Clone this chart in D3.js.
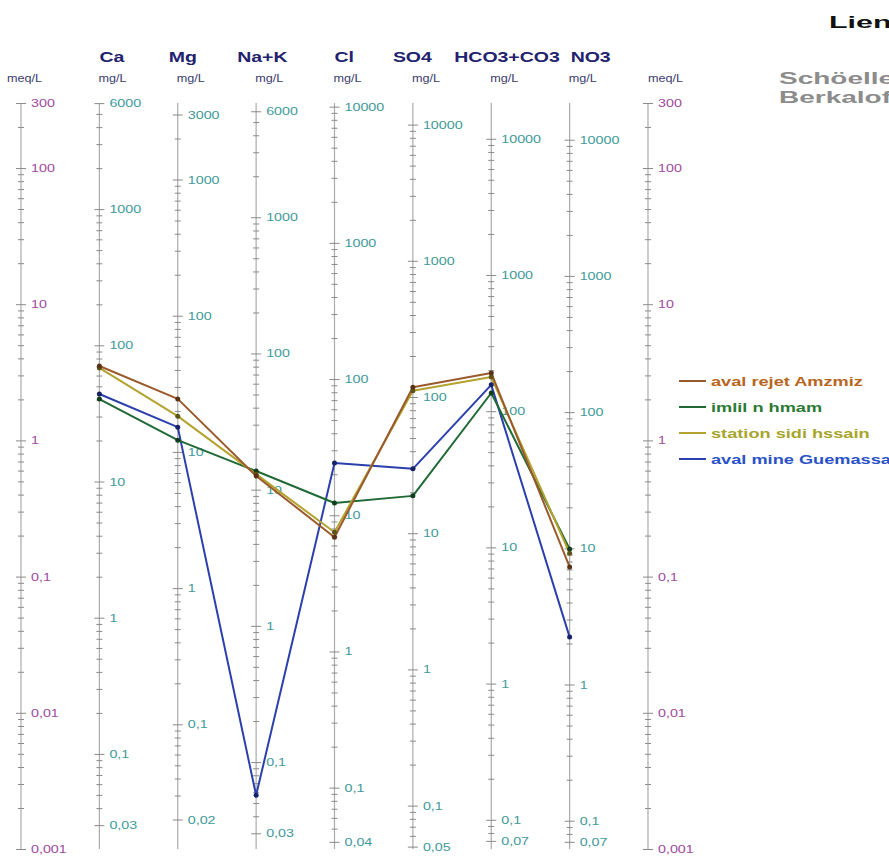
<!DOCTYPE html>
<html>
<head>
<meta charset="utf-8">
<script src="https://cdn.jsdelivr.net/npm/d3@7"></script>
<style>
  html, body { margin: 0; padding: 0; background: #ffffff; }
  svg { display: block; font-family: "Liberation Sans", Arial, sans-serif; }
</style>
</head>
<body>
<svg id="chart" width="889" height="857"></svg>
<script>
// ---------------- DATA ----------------
const ions = ["Ca", "Mg", "Na+K", "Cl", "SO4", "HCO3+CO3", "NO3"];
const ionLabels = ["Ca", "Mg", "Na+K", "Cl", "SO4", "HCO3+CO3", "NO3"];
const eqWeights = [20.04, 12.15, 23.0, 35.45, 48.03, 61.02, 62.0];   // mg per meq
const meqDomain = [300, 0.001];
const meqTickLabels = [300, 100, 10, 1, 0.1, 0.01, 0.001];
const mgTickLabels = [
  [6000, 1000, 100, 10, 1, 0.1, 0.03],
  [3000, 1000, 100, 10, 1, 0.1, 0.02],
  [6000, 1000, 100, 10, 1, 0.1, 0.03],
  [10000, 1000, 100, 10, 1, 0.1, 0.04],
  [10000, 1000, 100, 10, 1, 0.1, 0.05],
  [10000, 1000, 100, 10, 1, 0.1, 0.07],
  [10000, 1000, 100, 10, 1, 0.1, 0.07]
];
const seriesNames = ["aval rejet Amzmiz", "imlil n hmam", "station sidi hssain", "aval mine Guemassa"];
// concentrations in mg/L, in the order of `ions`
const amzmiz   = [70.5, 24.5, 12.6, 6.9, 118, 191, 7.3];
const imlil    = [40.3, 12.2, 13.7, 12.3, 18.8, 136, 9.9];
const sidi     = [68.2, 18.3, 13.0, 7.5, 111, 178, 9.2];
const guemassa = [43.9, 15.2, 0.057, 24.2, 29.7, 156, 2.23];
const seriesValues = [amzmiz, imlil, sidi, guemassa];

// ---------------- STYLE / LAYOUT ----------------
const lineColors = ["#9a5a2c", "#1f6a35", "#b3a22e", "#2b40ad"];
const dotColors  = ["#5a3316", "#113d1e", "#5d5416", "#162266"];
const legendText = ["#b8651e", "#2c7a34", "#a7a52c", "#2a52c6"];
const headerDx = [0, -9, -19, 0, -20, -37, 1];

const svg = d3.select("#chart");
const y = d3.scaleLog().domain(meqDomain).range([103, 849]);
const xKeys = ["meqL"].concat(ions, ["meqR"]);
const x = d3.scalePoint().domain(xKeys).range([21, 648]);

const fmt = v => String(+v.toPrecision(6)).replace(".", ",");

// horizontally stretched text helper (reference text is wide)
function wideText(parent, px, py, str, size, sx, attrs) {
  const t = parent.append("text")
    .attr("transform", `translate(${px},${py}) scale(${sx},1)`)
    .attr("font-size", size)
    .text(str);
  Object.entries(attrs || {}).forEach(([k, v]) => t.attr(k, v));
  return t;
}

function tickList(lo, hi) {
  const out = [];
  const k0 = Math.floor(Math.log10(lo)) - 1, k1 = Math.ceil(Math.log10(hi)) + 1;
  for (let k = k0; k <= k1; k++) {
    for (let m = 1; m <= 9; m++) {
      const v = +(m * Math.pow(10, k)).toPrecision(8);
      if (v >= lo * 0.999 && v <= hi * 1.001) out.push(v);
    }
  }
  return out;
}

function drawAxis(xPos, scale, labels, labelColor) {
  const [hi, lo] = scale.domain();
  const ticks = tickList(lo, hi);
  const labelSet = new Set(labels.map(v => +v.toPrecision(8)));
  const isMajor = d => {
    const m = +(d / Math.pow(10, Math.floor(Math.log10(d) + 1e-9))).toFixed(3);
    return m === 1 || labelSet.has(+d.toPrecision(8));
  };
  const g = svg.append("g").attr("transform", `translate(${xPos},0)`);
  const axis = d3.axisRight(scale)
    .tickValues(ticks)
    .tickSize(4)
    .tickPadding(7)
    .tickFormat(d => labelSet.has(+d.toPrecision(8)) ? fmt(d) : "");
  g.call(axis);
  g.select(".domain").attr("stroke", "#ababab").attr("stroke-width", 1.2)
    .attr("d", `M0,${scale.range()[0]}V${scale.range()[1]}`);
  g.selectAll(".tick line")
    .attr("stroke", "#8a8a8a")
    .attr("x1", d => isMajor(d) ? -5 : -3)
    .attr("x2", d => isMajor(d) ? 5 : 3);
  g.selectAll(".tick text")
    .attr("x", 0)
    .attr("transform", "translate(10,0) scale(1.3,1)")
    .attr("fill", labelColor)
    .attr("font-size", 11)
    .attr("font-family", "Liberation Sans, Arial, sans-serif");
  return g;
}

// meq axes
drawAxis(x("meqL"), y, meqTickLabels, "#a04a9e");
drawAxis(x("meqR"), y, meqTickLabels, "#a04a9e");

// mg/L axes
ions.forEach((ion, i) => {
  const s = d3.scaleLog().domain([meqDomain[0] * eqWeights[i], meqDomain[1] * eqWeights[i]]).range(y.range());
  drawAxis(x(ion), s, mgTickLabels[i], "#3f9a9a");
});

// headers
ions.forEach((ion, i) => {
  wideText(svg, x(ion) + headerDx[i], 62, ionLabels[i], 15, 1.3,
    { "font-weight": "bold", fill: "#22226e" });
  wideText(svg, x(ion) - 1, 82, "mg/L", 11.5, 1.1, { fill: "#3c3c6e" });
});
wideText(svg, 7, 82, "meq/L", 11.5, 1.1, { fill: "#3c3c6e" });
wideText(svg, x("meqR"), 82, "meq/L", 11.5, 1.1, { fill: "#3c3c6e" });

// title texts (cut by the right edge, as in the reference)
wideText(svg, 829, 28, "Lien", 16, 1.9, { "font-weight": "bold", fill: "#111" });
wideText(svg, 779, 84, "Schöeller", 16, 1.75, { "font-weight": "bold", fill: "#8c8c8c" });
wideText(svg, 779, 103, "Berkaloff", 16, 1.75, { "font-weight": "bold", fill: "#8c8c8c" });

// series lines
const line = d3.line()
  .x((d, i) => x(ions[i]))
  .y((d, i) => y(d / eqWeights[i]));

const drawOrder = [3, 1, 2, 0];
drawOrder.forEach(si => {
  svg.append("path").datum(seriesValues[si])
    .attr("d", line)
    .attr("fill", "none")
    .attr("stroke", lineColors[si])
    .attr("stroke-width", 2)
    .attr("stroke-linejoin", "round");
});
drawOrder.forEach(si => {
  svg.append("g").selectAll("circle").data(seriesValues[si]).join("circle")
    .attr("cx", (d, i) => x(ions[i]))
    .attr("cy", (d, i) => y(d / eqWeights[i]))
    .attr("r", 2.5)
    .attr("fill", dotColors[si]);
});

// legend
const leg = svg.append("g");
seriesNames.forEach((name, i) => {
  const ly = 381 + i * 26;
  leg.append("line").attr("x1", 679).attr("x2", 706).attr("y1", ly).attr("y2", ly)
    .attr("stroke", lineColors[i]).attr("stroke-width", 2);
  wideText(leg, 711, ly + 4.5, name, 13, 1.4,
    { "font-weight": "bold", fill: legendText[i] });
});
</script>
</body>
</html>
